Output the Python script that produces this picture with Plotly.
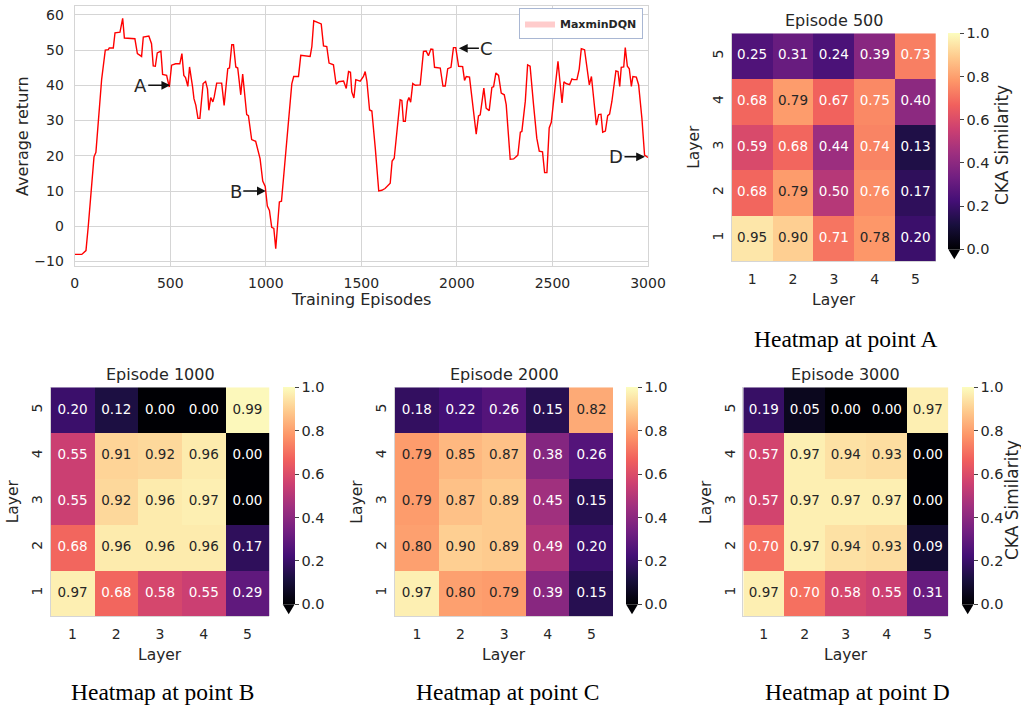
import plotly.graph_objects as go

W, H = 1021, 706

# ---------------- data ----------------
episodes = [0, 37, 59, 71, 101, 111, 141, 146, 160, 176, 181, 202, 211, 237, 251, 260, 315, 328, 350, 359,
            388, 402, 411, 422, 432, 451, 460, 481, 495, 507, 528, 550, 561, 571, 580, 592, 601, 617, 624, 634,
            645, 655, 672, 685, 695, 702, 712, 723, 730, 743, 769, 782, 801, 810, 822, 831, 843, 853, 869, 879,
            900, 909, 926, 947, 970, 984, 997, 1008, 1019, 1031, 1042, 1052, 1071, 1082, 1106, 1122, 1136, 1146,
            1171, 1183, 1232, 1241, 1251, 1290, 1302, 1319, 1331, 1354, 1368, 1381, 1407, 1421, 1433, 1443, 1450,
            1461, 1471, 1494, 1511, 1520, 1529, 1543, 1555, 1573, 1591, 1607, 1624, 1651, 1661, 1672, 1689, 1703,
            1712, 1720, 1730, 1741, 1749, 1758, 1769, 1782, 1808, 1825, 1839, 1851, 1864, 1874, 1883, 1913, 1927,
            1939, 1952, 1969, 1982, 1994, 2009, 2030, 2040, 2049, 2066, 2087, 2101, 2113, 2122, 2141, 2153, 2169,
            2183, 2192, 2204, 2218, 2232, 2248, 2258, 2279, 2297, 2319, 2332, 2340, 2358, 2370, 2383, 2401, 2418,
            2431, 2448, 2459, 2471, 2483, 2494, 2506, 2518, 2529, 2541, 2550, 2560, 2571, 2590, 2602, 2611, 2628,
            2640, 2651, 2668, 2681, 2693, 2704, 2716, 2730, 2742, 2754, 2763, 2777, 2789, 2799, 2811, 2832, 2843,
            2852, 2860, 2873, 2881, 2892, 2902, 2913, 2921, 2939, 2951, 2968, 2982, 3000]
avg_return = [-8.0, -8.0, -6.9, 0.0, 19.7, 21.0, 41.7, 43.8, 50.0, 50.1, 50.6, 50.6, 54.9, 55.1, 59.0, 53.4,
              53.2, 49.0, 48.2, 53.7, 54.0, 51.8, 45.5, 45.4, 49.2, 49.7, 43.1, 42.8, 39.5, 45.7, 46.1, 46.1,
              49.0, 42.8, 42.2, 39.7, 45.2, 39.5, 36.2, 34.3, 30.6, 30.6, 40.5, 41.1, 38.9, 32.9, 36.5, 35.3,
              36.7, 40.6, 40.6, 34.3, 44.7, 44.9, 51.5, 51.5, 45.2, 44.9, 37.3, 43.2, 31.7, 31.4, 24.6, 24.1,
              19.2, 12.8, 11.3, 5.7, 4.5, -0.3, -0.6, -6.4, 6.9, 7.1, 22.2, 32.1, 40.4, 42.5, 42.5, 48.5,
              48.2, 51.0, 58.3, 57.4, 51.2, 51.0, 46.3, 45.8, 40.3, 41.0, 41.2, 39.1, 43.9, 43.7, 38.1, 36.4,
              41.6, 41.2, 42.5, 43.9, 41.2, 33.0, 32.7, 22.1, 10.0, 10.2, 10.7, 12.2, 18.5, 19.3, 28.8, 35.9,
              35.7, 29.8, 29.8, 35.4, 36.5, 35.2, 40.5, 40.0, 40.1, 49.6, 49.7, 48.4, 50.3, 50.2, 45.1, 44.9,
              39.8, 39.8, 44.7, 45.1, 50.7, 50.7, 45.4, 45.3, 41.4, 42.5, 42.3, 32.1, 26.1, 31.3, 31.6, 39.2,
              33.5, 32.8, 39.4, 39.6, 43.5, 42.8, 37.8, 37.3, 34.5, 19.0, 19.1, 20.2, 26.7, 26.9, 35.5, 45.8,
              45.4, 34.5, 25.0, 21.3, 21.1, 15.2, 15.2, 27.9, 29.5, 35.5, 42.3, 46.8, 40.0, 35.0, 41.0, 40.5,
              40.2, 41.8, 41.6, 41.6, 44.6, 50.4, 50.1, 44.9, 40.1, 42.5, 36.4, 28.7, 31.7, 31.8, 26.7, 27.0,
              31.4, 31.8, 35.4, 44.1, 43.9, 39.7, 45.1, 45.2, 50.7, 45.4, 44.7, 39.7, 42.5, 42.3, 40.1, 30.7,
              20.2, 19.5]

x_ticks = [0, 500, 1000, 1500, 2000, 2500, 3000]
y_ticks = [-10, 0, 10, 20, 30, 40, 50, 60]

point_labels = ["A", "B", "C", "D"]
point_episodes = [500, 1000, 2000, 3000]
point_values = [40.0, 10.0, 50.5, 19.7]

layers = [1, 2, 3, 4, 5]
# rows: layer 1 (bottom) .. layer 5 (top)
cka_ep500 = [[0.95, 0.90, 0.71, 0.78, 0.20],
             [0.68, 0.79, 0.50, 0.76, 0.17],
             [0.59, 0.68, 0.44, 0.74, 0.13],
             [0.68, 0.79, 0.67, 0.75, 0.40],
             [0.25, 0.31, 0.24, 0.39, 0.73]]
cka_ep1000 = [[0.97, 0.68, 0.58, 0.55, 0.29],
              [0.68, 0.96, 0.96, 0.96, 0.17],
              [0.55, 0.92, 0.96, 0.97, 0.00],
              [0.55, 0.91, 0.92, 0.96, 0.00],
              [0.20, 0.12, 0.00, 0.00, 0.99]]
cka_ep2000 = [[0.97, 0.80, 0.79, 0.39, 0.15],
              [0.80, 0.90, 0.89, 0.49, 0.20],
              [0.79, 0.87, 0.89, 0.45, 0.15],
              [0.79, 0.85, 0.87, 0.38, 0.26],
              [0.18, 0.22, 0.26, 0.15, 0.82]]
cka_ep3000 = [[0.97, 0.70, 0.58, 0.55, 0.31],
              [0.70, 0.97, 0.94, 0.93, 0.09],
              [0.57, 0.97, 0.97, 0.97, 0.00],
              [0.57, 0.97, 0.94, 0.93, 0.00],
              [0.19, 0.05, 0.00, 0.00, 0.97]]
cbar_ticks = [0.0, 0.2, 0.4, 0.6, 0.8, 1.0]

# ---------------- helpers ----------------
def px(x):
    return x / W


def py(y):
    return 1 - y / H


TXT = "#262626"
GRID = "#d5d5d5"
FONT = "DejaVu Sans"

fig = go.Figure()

# ---------------- line chart ----------------
fig.add_trace(go.Scatter(x=episodes, y=avg_return, mode="lines",
                         line=dict(color="#ff0000", width=1.4), showlegend=False,
                         xaxis="x", yaxis="y"))
fig.add_trace(go.Scatter(x=[None], y=[None], mode="lines", fill="toself",
                         fillcolor="#ffcccc", line=dict(width=0, color="#ffcccc"),
                         name="MaxminDQN", showlegend=True, xaxis="x", yaxis="y"))

layout = dict(
    width=W, height=H, autosize=False,
    margin=dict(l=0, r=0, t=0, b=0),
    paper_bgcolor="white", plot_bgcolor="white",
    font=dict(family=FONT, color=TXT, size=14),
    showlegend=True,
    legend=dict(x=px(643), y=py(8), xanchor="right", yanchor="top",
                bgcolor="white", bordercolor="#a9b7d3", borderwidth=1,
                font=dict(family=FONT, size=11, weight="bold", color=TXT),
                itemwidth=30, tracegroupgap=0),
    xaxis=dict(domain=[px(74.7), px(648)], range=[0, 3000], tickvals=x_ticks,
               showgrid=True, gridcolor=GRID, gridwidth=1, zeroline=False,
               showline=True, linecolor=GRID, mirror=True, ticks="",
               ticklabelstandoff=4, tickfont=dict(size=14, color=TXT),
               automargin=False, anchor="y"),
    yaxis=dict(domain=[py(265.7), py(6)], range=[-11.2, 62.5], tickvals=y_ticks,
               showgrid=True, gridcolor=GRID, gridwidth=1, zeroline=False,
               showline=True, linecolor=GRID, mirror=True, ticks="",
               ticklabelstandoff=7, tickfont=dict(size=14, color=TXT),
               automargin=False, anchor="x"),
)

annotations = []
shapes = []


def paper_text(x, y, text, size, family=FONT, color=TXT, angle=0, yanchor="middle"):
    annotations.append(dict(x=px(x), y=py(y), xref="paper", yref="paper", text=text,
                            showarrow=False, xanchor="center", yanchor=yanchor, textangle=angle,
                            font=dict(family=family, size=size, color=color)))


# axis titles of the line chart
paper_text(361, 300, "Training Episodes", 16)
paper_text(23, 136, "Average return", 16, angle=-90)

# point annotations with arrows
offsets = [(-30, 0), (-30, 0), (30, 0), (-32, 0)]
standoffs = [0, 0, 2, 3]
for lab, ex, ev, (dx, dy), so in zip(point_labels, point_episodes, point_values, offsets, standoffs):
    annotations.append(dict(x=ex, y=ev, xref="x", yref="y", text=lab, showarrow=True,
                            ax=dx, ay=dy, arrowhead=2, arrowsize=1.1, arrowwidth=1.6,
                            arrowcolor="#111111", standoff=so,
                            font=dict(family=FONT, size=18, color=TXT)))

# ---------------- heatmaps ----------------
heatmaps = [
    dict(z=cka_ep500, title="Episode 500", caption="Heatmap at point A",
         box=(731.7, 936.0, 33.3, 261.0), cb_x=948.3, cb_len=216, cap=(845, 339), cka=(1002, 145)),
    dict(z=cka_ep1000, title="Episode 1000", caption="Heatmap at point B",
         box=(50.7, 269.3, 387.3, 616.0), cb_x=282.7, cb_len=217, cap=(162, 692), cka=None),
    dict(z=cka_ep2000, title="Episode 2000", caption="Heatmap at point C",
         box=(395.0, 613.3, 387.3, 616.0), cb_x=626.0, cb_len=217, cap=(507, 692), cka=None),
    dict(z=cka_ep3000, title="Episode 3000", caption="Heatmap at point D",
         box=(743.3, 948.3, 387.3, 616.0), cb_x=961.7, cb_len=217, cap=(857, 692), cka=(1012, 500)),
]

for i, hm in enumerate(heatmaps):
    n = i + 2
    xa, ya = f"x{n}", f"y{n}"
    x0, x1, y0, y1 = hm["box"]
    fig.add_trace(go.Heatmap(
        z=hm["z"], x=layers, y=layers, zmin=0, zmax=1, colorscale="Magma",
        xaxis=xa, yaxis=ya, showscale=True, xgap=0, ygap=0,
        colorbar=dict(thickness=12, thicknessmode="pixels", len=hm["cb_len"], lenmode="pixels",
                      x=px(hm["cb_x"]), xanchor="left", y=py(y0), yanchor="top",
                      xpad=0, ypad=0, outlinewidth=0, tickvals=cbar_ticks, tickformat=".1f",
                      ticks="outside", ticklen=4, tickwidth=1, tickcolor="#444444",
                      tickfont=dict(family=FONT, size=14.5, color=TXT)),
    ))
    xs, ys, texts, colors = [], [], [], []
    for r, row in enumerate(hm["z"]):
        for c, v in enumerate(row):
            xs.append(layers[c])
            ys.append(layers[r])
            texts.append(f"{v:.2f}")
            colors.append(TXT if v >= 0.77 else "#ffffff")
    fig.add_trace(go.Scatter(x=xs, y=ys, text=texts, mode="text", showlegend=False,
                             textfont=dict(family=FONT, size=13.5, color=colors),
                             xaxis=xa, yaxis=ya, hoverinfo="skip"))
    layout[f"xaxis{n}"] = dict(domain=[px(x0), px(x1)], range=[0.5, 5.5], tickvals=layers,
                               showgrid=False, zeroline=False, showline=True, linecolor=GRID,
                               ticks="", ticklabelstandoff=5, tickfont=dict(size=14, color=TXT),
                               anchor=ya, automargin=False)
    layout[f"yaxis{n}"] = dict(domain=[py(y1), py(y0)], range=[0.5, 5.5], tickvals=layers,
                               showgrid=False, zeroline=False, showline=True, linecolor=GRID,
                               ticks="", ticklabelstandoff=2, tickangle=-90,
                               tickfont=dict(size=14, color=TXT),
                               anchor=xa, automargin=False)
    # axis titles
    paper_text((x0 + x1) / 2, y1 + 39, "Layer", 15.5)
    paper_text(x0 - 38, (y0 + y1) / 2, "Layer", 15.5, angle=-90)
    # subplot title
    paper_text((x0 + x1) / 2, y0 - 13, hm["title"], 16)
    # caption
    paper_text(hm["cap"][0], hm["cap"][1], hm["caption"], 23.5, family="Liberation Serif",
               color="black")
    if hm["cka"] is not None:
        paper_text(hm["cka"][0], hm["cka"][1], "CKA Similarity", 17, angle=-90)
    # colorbar 'extend min' triangle
    cbx0, cbx1 = hm["cb_x"], hm["cb_x"] + 12
    cb_bottom = y0 + hm["cb_len"]
    shapes.append(dict(type="path", xref="paper", yref="paper",
                       path=f"M {px(cbx0)} {py(cb_bottom)} L {px(cbx1)} {py(cb_bottom)} "
                            f"L {px((cbx0 + cbx1) / 2)} {py(cb_bottom + 10)} Z",
                       fillcolor="#000004", line=dict(width=0)))

layout["annotations"] = annotations
layout["shapes"] = shapes
fig.update_layout(**layout)
fig.write_html("out.html", config={"displayModeBar": False},
               post_script="document.body.style.margin='0px';")
